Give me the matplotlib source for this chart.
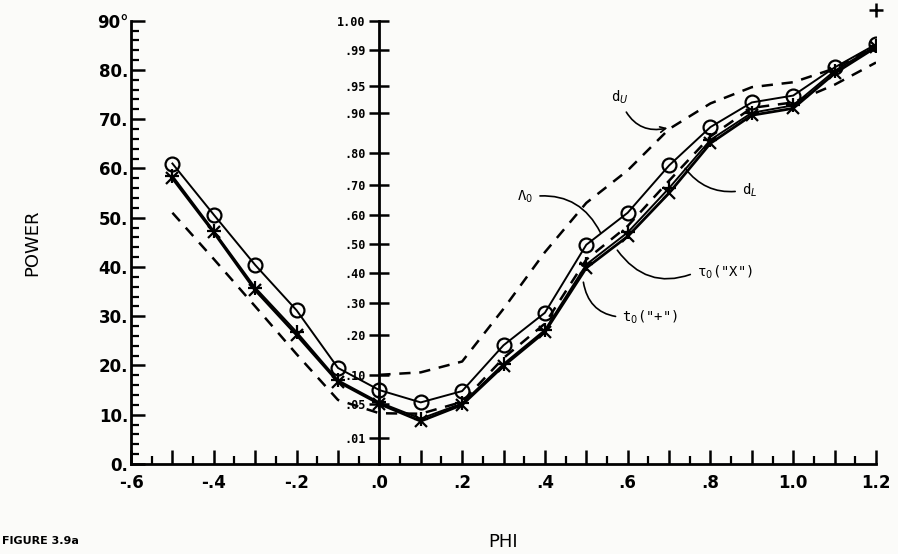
import matplotlib.pyplot as plt
from matplotlib.ticker import FixedLocator, MultipleLocator

phi = [-.5, -.4, -.3, -.2, -.1, 0, .1, .2, .3, .4, .5, .6, .7, .8, .9, 1.0, 1.1, 1.2]

# Lambda_0 (circles)
lambda0 = [61, 50.6, 40.4, 31.2, 19.5, 15.0, 12.5, 14.8, 24.1, 30.7, 44.5, 51.0, 60.6, 68.4, 73.4, 74.8, 80.5, 85.2]
# tau_0 ("X")
tau0 = [58, 47, 35.3, 26.2, 16.7, 12.2, 8.7, 12.0, 19.9, 26.8, 39.8, 46.2, 55.0, 65.1, 70.8, 72.2, 79.3, 84.6]
# t_0 ("+")
t0 = [58.5, 47.3, 35.8, 26.8, 17.0, 12.5, 9.2, 12.3, 20.3, 27.2, 40.5, 47.0, 56.0, 65.8, 71.3, 72.8, 79.8, 84.9]
# the lone "+" off the top at phi = 1.2
t0_top_x = [1.2]
t0_top_y = [92.1]

# d_U (upper bound, only for phi >= 0)
phi_u = [0, .1, .2, .3, .4, .5, .6, .7, .8, .9, 1.0, 1.1, 1.2]
d_u = [18.1, 18.6, 20.8, 31.5, 43.0, 53.0, 59.6, 68.0, 73.2, 76.5, 77.5, 80.3, 85.0]
# d_L (lower bound)
d_l = [51, 41.6, 32, 22.3, 13, 10.3, 10.2, 12.6, 21.5, 28.5, 41.5, 48.3, 57.5, 66.5, 72.3, 73.4, 77.0, 81.5]

# inner probability scale (position on the POWER axis, label)
prob_pos = [90, 84.1, 76.8, 71.3, 63.1, 56.6, 50.5, 44.7, 38.7, 32.7, 26.2, 18.1, 12.2, 5.2]
prob_lab = ['1.00', '.99', '.95', '.90', '.80', '.70', '.60', '.50', '.40', '.30', '.20', '.10', '.05', '.01']

x_ticks = [-.6, -.5, -.4, -.3, -.2, -.1, 0, .1, .2, .3, .4, .5, .6, .7, .8, .9, 1.0, 1.1, 1.2]
x_labels = ['-.6', '', '-.4', '', '-.2', '', '.0', '', '.2', '', '.4', '', '.6', '', '.8', '', '1.0', '', '1.2']
y_ticks = [0, 10, 20, 30, 40, 50, 60, 70, 80, 90]
y_labels = ['0.', '10.', '20.', '30.', '40.', '50.', '60.', '70.', '80.', '90°']

fig = plt.figure(figsize=(8.98, 5.54), dpi=100, facecolor='#fbfbf9')
ax = fig.add_axes([0.1459, 0.1625, 0.8296, 0.8002])
ax.set_facecolor('#fbfbf9')

ax.plot(phi, lambda0, color='black', lw=1.4, marker='o', ms=10, mfc='none', mew=1.6)
ax.plot(phi, tau0, color='black', lw=2.0, marker='x', ms=8, mew=1.6)
ax.plot(phi, t0, color='black', lw=1.4, marker='+', ms=10, mew=1.6)
ax.plot(t0_top_x, t0_top_y, ls='none', color='black', marker='+', ms=10, mew=1.8, clip_on=False)
ax.plot(phi_u, d_u, color='black', lw=1.8, ls=(0, (4.5, 3.5)))
ax.plot(phi, d_l, color='black', lw=1.8, ls=(0, (4.5, 3.5)))

ax.set_xlim(-0.6, 1.2)
ax.set_ylim(0, 90)

for side in ['top', 'right']:
    ax.spines[side].set_visible(False)
for side in ['left', 'bottom']:
    ax.spines[side].set_linewidth(2)

ax.xaxis.set_major_locator(FixedLocator(x_ticks))
ax.set_xticklabels(x_labels)
ax.xaxis.set_minor_locator(MultipleLocator(0.05))
ax.set_yticks(y_ticks)
ax.set_yticklabels(y_labels)
ax.yaxis.set_minor_locator(MultipleLocator(2))
ax.tick_params(which='major', direction='in', length=10, width=1.8, labelsize=12, pad=4)
ax.tick_params(which='minor', direction='in', length=6, width=1.6)
ax.tick_params(axis='x', pad=7)
ax.tick_params(axis='y', pad=2)
for lab in ax.get_xticklabels() + ax.get_yticklabels():
    lab.set_fontweight('bold')

# inner probability axis at phi = 0
sec = ax.secondary_yaxis(0.6 / 1.8)
sec.spines['left'].set_linewidth(2)
sec.set_yticks(prob_pos)
sec.set_yticklabels(prob_lab)
sec.tick_params(direction='inout', length=14, width=1.8, labelsize=8.5, pad=3)
for lab in sec.get_yticklabels():
    lab.set_family('DejaVu Sans Mono')
    lab.set_fontweight('bold')

ax.set_xlabel('PHI', fontsize=13, labelpad=30)
ax.set_ylabel('POWER', fontsize=13, labelpad=40)
fig.text(0.002, 0.015, 'FIGURE 3.9a', fontsize=8, fontweight='bold', ha='left', va='bottom')

mono = 'DejaVu Sans Mono'
ax.annotate('d$_U$', xy=(0.696, 68.2), xytext=(0.58, 74.5), fontsize=10, family=mono,
            ha='center', va='center',
            arrowprops=dict(arrowstyle='->', lw=1.2, color='black', relpos=(0.7, 0),
                            shrinkA=3, shrinkB=0, connectionstyle='arc3,rad=0.4'))
ax.annotate('d$_L$', xy=(0.739, 60), xytext=(0.895, 55.5), fontsize=10, family=mono,
            ha='center', va='center',
            arrowprops=dict(arrowstyle='-', lw=1.2, color='black', relpos=(0, 0.5),
                            shrinkA=3, shrinkB=0, connectionstyle='arc3,rad=-0.3'))
ax.annotate('Λ$_0$', xy=(0.534, 47), xytext=(0.352, 54.3), fontsize=10, family=mono,
            ha='center', va='center',
            arrowprops=dict(arrowstyle='-', lw=1.2, color='black', relpos=(1, 0.5),
                            shrinkA=3, shrinkB=0, connectionstyle='arc3,rad=-0.35'))
ax.annotate('τ$_0$("X")', xy=(0.575, 43.4), xytext=(0.835, 39), fontsize=10, family=mono,
            ha='center', va='center',
            arrowprops=dict(arrowstyle='-', lw=1.2, color='black', relpos=(0, 0.5),
                            shrinkA=3, shrinkB=0, connectionstyle='arc3,rad=-0.4'))
ax.annotate('t$_0$("+")', xy=(0.493, 36.9), xytext=(0.655, 29.8), fontsize=10, family=mono,
            ha='center', va='center',
            arrowprops=dict(arrowstyle='-', lw=1.2, color='black', relpos=(0, 0.5),
                            shrinkA=3, shrinkB=0, connectionstyle='arc3,rad=-0.4'))

fig.savefig('out.png', dpi=100, facecolor=fig.get_facecolor())
